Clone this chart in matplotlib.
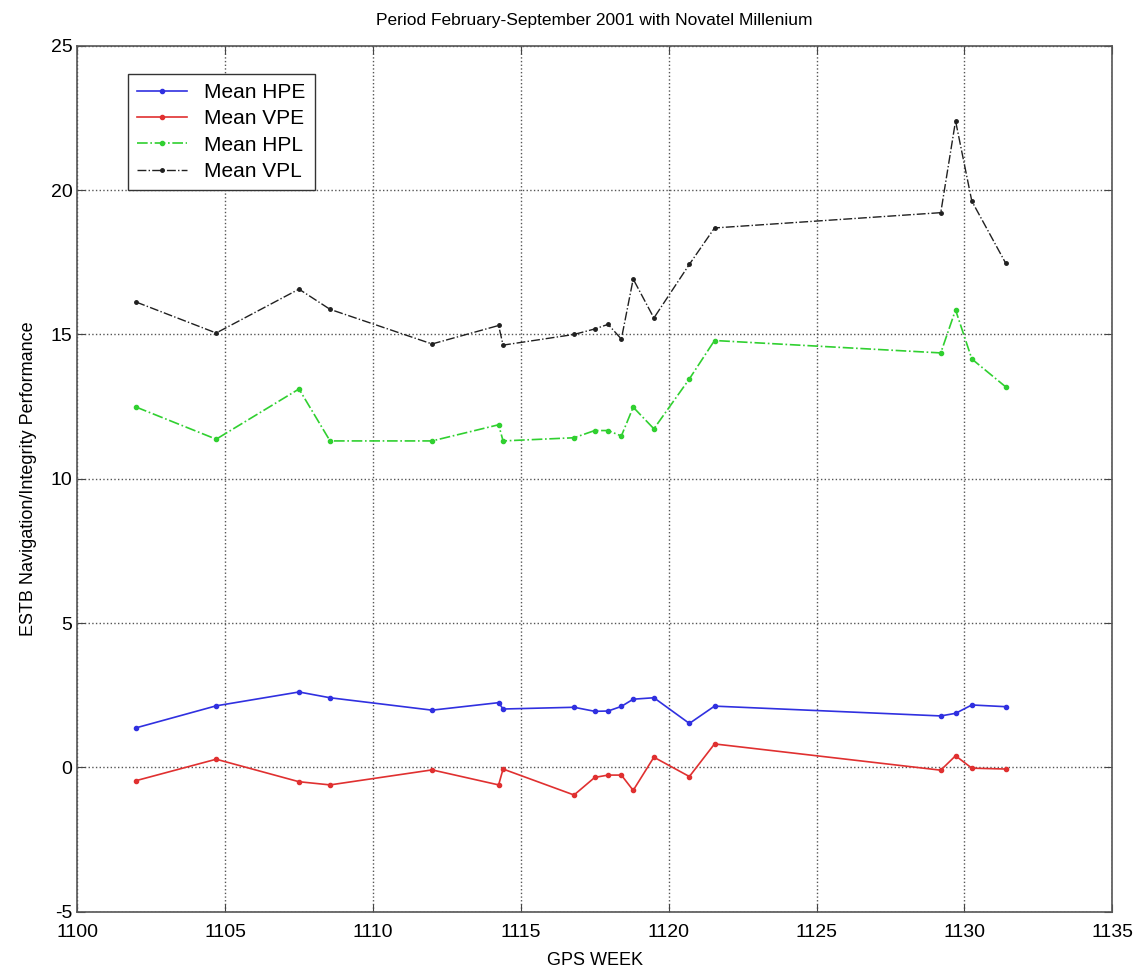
import matplotlib
matplotlib.use("Agg")
import matplotlib.pyplot as plt
import numpy as np

plt.rcParams['font.family'] = ['Liberation Sans', 'DejaVu Sans']
plt.rcParams['axes.unicode_minus'] = False

# GPS weeks of each measurement campaign
weeks = [1102.0, 1104.7, 1107.5, 1108.55, 1112.0, 1114.25, 1114.4, 1116.8, 1117.5,
         1117.95, 1118.4, 1118.8, 1119.5, 1120.7, 1121.55, 1129.2, 1129.7, 1130.25, 1131.4]

hpe = [1.37, 2.13, 2.61, 2.41, 1.98, 2.24, 2.02, 2.08, 1.94, 1.95,
       2.11, 2.36, 2.41, 1.52, 2.12, 1.78, 1.87, 2.16, 2.10]
vpe = [-0.46, 0.28, -0.50, -0.61, -0.09, -0.61, -0.06, -0.96, -0.35, -0.27,
       -0.27, -0.80, 0.35, -0.32, 0.81, -0.10, 0.40, -0.03, -0.06]
hpl = [12.48, 11.37, 13.11, 11.31, 11.31, 11.87, 11.31, 11.42, 11.67, 11.67,
       11.48, 12.48, 11.73, 13.46, 14.79, 14.36, 15.85, 14.15, 13.18]
vpl = [16.12, 15.05, 16.57, 15.87, 14.67, 15.31, 14.63, 15.00, 15.19, 15.35,
       14.84, 16.92, 15.57, 17.43, 18.69, 19.22, 22.40, 19.62, 17.46]

fig = plt.figure(figsize=(11.35, 9.76), dpi=100)
ax = fig.add_axes([0.068, 0.066, 0.912, 0.887])

ax.plot(weeks, hpe, '-', color='#3030e0', marker='.', markersize=6, lw=1.2, label='Mean HPE')
ax.plot(weeks, vpe, '-', color='#e03030', marker='.', markersize=6, lw=1.2, label='Mean VPE')
ax.plot(weeks, hpl, '-.', color='#30d030', marker='.', markersize=6, lw=1.2, label='Mean HPL')
ax.plot(weeks, vpl, '-.', color='#202020', marker='.', markersize=5, lw=1.0, label='Mean VPL')

ax.set_xlim(1100, 1135)
ax.set_ylim(-5, 25)
ax.set_xticks(np.arange(1100, 1136, 5))
ax.set_yticks(np.arange(-5, 26, 5))
ax.grid(True, linestyle=':', color='#555555', linewidth=1.0)
ax.tick_params(direction='in', top=True, right=True, labelsize=14, length=6, color='#444444')
ax.tick_params(axis='x', pad=9)
for s in ax.spines.values():
    s.set_color('#555555')
    s.set_linewidth(1.2)

ax.set_xlabel('GPS WEEK', fontsize=13, labelpad=8)
ax.set_ylabel('ESTB Navigation/Integrity Performance', fontsize=13, labelpad=10)
ax.set_title('Period February-September 2001 with Novatel Millenium', fontsize=12.5, pad=15)

leg = ax.legend(loc='upper left', bbox_to_anchor=(0.039, 0.98), fontsize=15,
                fancybox=False, framealpha=1, edgecolor='#333333',
                handlelength=2.4, borderpad=0.45, labelspacing=0.35)
leg.get_frame().set_linewidth(1.0)

fig.savefig('out.png', dpi=100)
